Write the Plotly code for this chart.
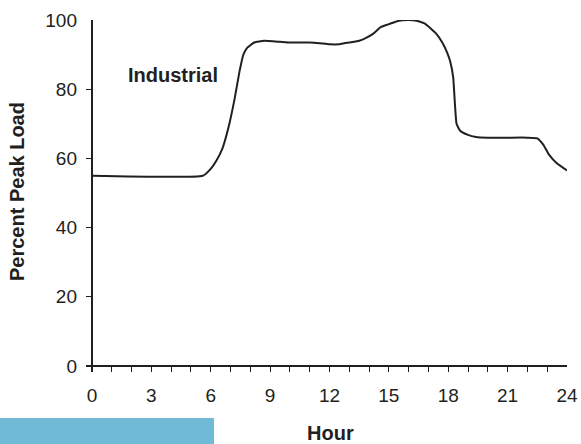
import plotly.graph_objects as go

hours = [0, 5.6, 6.0, 6.3, 6.6, 6.9, 7.2, 7.45, 7.65, 7.85, 8.2, 8.7, 9.5, 10, 11, 11.5,
         12, 12.5, 13, 13.5, 13.8, 14.2, 14.6, 15.0, 15.5, 16.0, 16.4, 16.8, 17.1, 17.4,
         17.7, 17.95, 18.1, 18.25, 18.42, 18.6, 19.0, 19.4, 20, 21, 22, 22.5, 22.8, 23.1,
         23.5, 24]
load = [55, 55, 57, 59.5, 63, 69, 77, 85, 90, 92, 93.5, 94, 93.7, 93.5, 93.5, 93.3,
        93, 93, 93.5, 94, 94.7, 96, 98, 98.8, 99.8, 100, 99.8, 99, 97.6, 96,
        93.5, 90.5, 88, 83.5, 70, 68, 66.8, 66.2, 66, 66, 66, 65.8, 64, 61,
        58.5, 56.5]

x_tickvals = [0, 3, 6, 9, 12, 15, 18, 21, 24]
x_ticktext = ["0", "3", "6", "9", "12", "15", "18", "21", "24"]
y_tickvals = [0, 20, 40, 60, 80, 100]
y_ticktext = ["0", "20", "40", "60", "80", "100"]

series_label = "Industrial"
x_title = "Hour"
y_title = "Percent Peak Load"

W, H = 581, 444
ML, MR, MT, MB = 86, 14, 20, 72
pw, ph = W - ML - MR, H - MT - MB

def px_to_paper_x(px):
    return (px - ML) / pw

def px_to_paper_y(py):
    return (H - MB - py) / ph

ink = "#231f20"
font = "Liberation Sans, Arial, sans-serif"

fig = go.Figure()
fig.add_trace(go.Scatter(x=hours, y=load, mode="lines",
                         line=dict(color=ink, width=2, shape="spline", smoothing=0.4),
                         showlegend=False, hoverinfo="skip"))

fig.update_layout(
    width=W, height=H,
    margin=dict(l=ML, r=MR, t=MT, b=MB, pad=0, autoexpand=False),
    plot_bgcolor="white", paper_bgcolor="white",
    font=dict(family=font, size=19, color=ink),
    xaxis=dict(range=[-0.3, 24], showgrid=False, showline=False, automargin=False,
               zeroline=True, zerolinecolor=ink, zerolinewidth=1.6,
               tickmode="array", tickvals=x_tickvals, ticktext=x_ticktext,
               ticks="inside", ticklen=6, tickwidth=1.4, tickcolor=ink,
               minor=dict(dtick=1, ticks="inside", ticklen=6, tickwidth=1.4,
                          tickcolor=ink, showgrid=False),
               ticklabelstandoff=10,
               tickfont=dict(size=19, color=ink)),
    yaxis=dict(range=[-1.73, 100], showgrid=False, showline=False, automargin=False,
               zeroline=True, zerolinecolor=ink, zerolinewidth=1.6,
               tickmode="array", tickvals=y_tickvals, ticktext=y_ticktext,
               ticks="inside", ticklen=6, tickwidth=1.4, tickcolor=ink,
               ticklabelstandoff=8,
               tickfont=dict(size=19, color=ink)),
    annotations=[
        dict(text=f"<b>{series_label}</b>", x=4.1, y=84, xref="x", yref="y",
             xanchor="center", yanchor="middle",
             showarrow=False, font=dict(size=20, color=ink, family=font)),
        dict(text=f"<b>{x_title}</b>", x=px_to_paper_x(330), y=px_to_paper_y(433),
             xref="paper", yref="paper", showarrow=False,
             xanchor="center", yanchor="middle",
             font=dict(size=20, color=ink, family=font)),
        dict(text=f"<b>{y_title}</b>", x=px_to_paper_x(17), y=px_to_paper_y(192),
             xref="paper", yref="paper", showarrow=False, textangle=-90,
             xanchor="center", yanchor="middle",
             font=dict(size=20, color=ink, family=font)),
    ],
    shapes=[
        dict(type="rect", xref="paper", yref="paper",
             x0=px_to_paper_x(0), x1=px_to_paper_x(214),
             y0=px_to_paper_y(444), y1=px_to_paper_y(418),
             fillcolor="#70b9d7", line=dict(width=0), layer="above"),
    ],
)

fig.write_html("out.html", config={"displayModeBar": False},
               post_script="document.body.style.margin='0px';document.body.style.overflow='hidden';")
